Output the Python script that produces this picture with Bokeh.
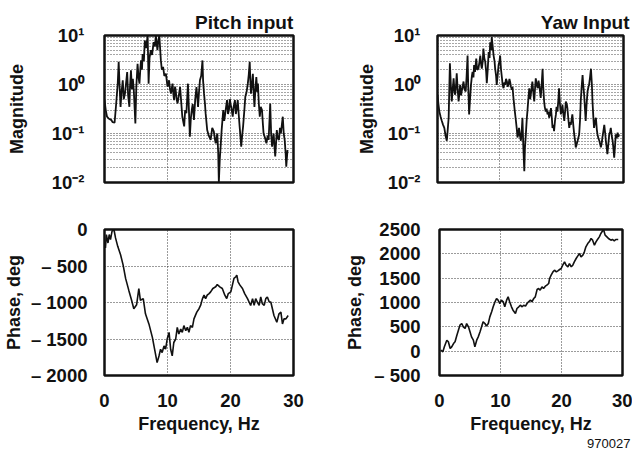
from bokeh.plotting import figure
from bokeh.layouts import column, row
from bokeh.models import Range1d, FixedTicker, CustomJSTickFormatter, Title
from bokeh.embed import file_html
from bokeh.resources import INLINE

# ---- frequency response data (frequency in Hz) ----
pitch_mag_freq = [0.0, 0.2, 0.4, 0.7, 1.05, 1.3, 1.6, 1.85, 2.1, 2.25,
                  2.4, 2.55, 2.7, 2.9, 3.05, 3.25, 3.4, 3.6, 3.75, 3.95,
                  4.05, 4.2, 4.35, 4.5, 4.65, 4.9, 5.05, 5.25, 5.4, 5.55,
                  5.7, 5.8, 5.95, 6.05, 6.25, 6.4, 6.6, 6.85, 7.0, 7.15,
                  7.35, 7.55, 7.8, 8.0, 8.15, 8.4, 8.55, 8.7, 8.95, 9.1,
                  9.3, 9.5, 9.75, 10.0, 10.25, 10.4, 10.55, 10.8, 10.95, 11.05,
                  11.2, 11.3, 11.45, 11.6, 11.8, 12.0, 12.2, 12.35, 12.65, 12.8,
                  13.0, 13.15, 13.25, 13.4, 13.55, 13.7, 13.85, 14.0, 14.2, 14.4,
                  14.6, 14.75, 14.85, 15.0, 15.15, 15.35, 15.55, 15.65, 15.8, 15.95,
                  16.05, 16.3, 16.55, 16.85, 17.1, 17.35, 17.5, 17.65, 17.9, 18.05,
                  18.15, 18.3, 18.4, 18.6, 18.85, 19.0, 19.1, 19.3, 19.45, 19.6,
                  19.75, 19.9, 20.0, 20.2, 20.35, 20.5, 20.7, 20.85, 20.95, 21.15,
                  21.3, 21.45, 21.7, 21.85, 22.0, 22.2, 22.35, 22.55, 22.75, 22.9,
                  23.05, 23.15, 23.25, 23.4, 23.55, 23.7, 23.8, 23.95, 24.1, 24.25,
                  24.35, 24.5, 24.65, 24.8, 25.0, 25.15, 25.25, 25.5, 25.7, 25.9,
                  26.05, 26.2, 26.3, 26.45, 26.6, 26.75, 26.85, 27.0, 27.1, 27.25,
                  27.35, 27.5, 27.7, 27.85, 28.0, 28.15, 28.3, 28.45, 28.6, 28.75,
                  28.85, 29.05]
pitch_mag = [0.48, 0.3, 0.22, 0.2, 0.19, 0.17, 0.166, 0.4, 1.04, 2.9,
             0.9, 0.35, 0.7, 1.22, 0.5, 0.65, 1.0, 1.8, 0.6, 0.35,
             0.9, 1.95, 0.8, 1.3, 0.76, 0.16, 0.9, 2.65, 1.4, 1.04,
             2.2, 3.1, 2.0, 4.2, 3.0, 7.9, 5.5, 10.0, 1.04, 3.5,
             5.0, 4.0, 7.3, 6.0, 10.0, 5.0, 8.0, 10.0, 3.1, 2.0,
             2.3, 1.5, 1.66, 0.9, 1.22, 0.8, 0.65, 1.04, 0.6, 0.48,
             0.9, 0.76, 0.5, 0.41, 0.6, 0.89, 0.4, 0.22, 0.14, 0.3,
             0.26, 0.6, 1.04, 0.3, 0.086, 0.2, 0.30, 0.4, 0.19, 0.5,
             0.89, 0.5, 0.35, 0.7, 1.22, 1.5, 3.1, 1.2, 0.65, 0.4,
             0.26, 0.118, 0.09, 0.074, 0.13, 0.11, 0.08, 0.063, 0.10, 0.04,
             0.01, 0.03, 0.046, 0.12, 0.30, 0.18, 0.22, 0.35, 0.48, 0.25,
             0.30, 0.5, 0.41, 0.3, 0.22, 0.35, 0.48, 0.25, 0.30, 0.48,
             0.25, 0.14, 0.054, 0.09, 0.14, 0.3, 0.56, 0.7, 1.04, 1.6,
             2.9, 1.2, 0.65, 1.0, 1.66, 0.6, 0.35, 0.8, 1.42, 0.7,
             1.04, 0.4, 0.22, 0.35, 0.30, 0.15, 0.10, 0.08, 0.063, 0.09,
             0.074, 0.2, 0.41, 0.1, 0.054, 0.08, 0.10, 0.05, 0.034, 0.07,
             0.118, 0.08, 0.074, 0.13, 0.10, 0.15, 0.22, 0.1, 0.074, 0.04,
             0.021, 0.046]

yaw_mag_freq = [0.0, 0.15, 0.3, 0.5, 0.7, 0.9, 1.1, 1.3, 1.5, 1.65,
                1.8, 1.9, 2.0, 2.15, 2.3, 2.45, 2.6, 2.75, 2.85, 3.0,
                3.1, 3.25, 3.4, 3.55, 3.65, 3.8, 3.9, 4.05, 4.2, 4.35,
                4.55, 4.7, 4.85, 4.95, 5.1, 5.25, 5.4, 5.55, 5.65, 5.8,
                5.9, 6.05, 6.25, 6.4, 6.6, 6.75, 6.9, 7.05, 7.15, 7.3,
                7.4, 7.55, 7.7, 7.85, 7.95, 8.1, 8.25, 8.4, 8.5, 8.65,
                8.75, 8.9, 9.05, 9.2, 9.3, 9.45, 9.55, 9.7, 9.85, 10.0,
                10.1, 10.25, 10.4, 10.5, 10.65, 10.8, 10.9, 11.05, 11.2, 11.3,
                11.45, 11.6, 11.7, 11.85, 12.0, 12.1, 12.25, 12.45, 12.65, 12.8,
                12.9, 13.05, 13.15, 13.3, 13.45, 13.6, 13.7, 13.85, 14.0, 14.1,
                14.25, 14.4, 14.5, 14.65, 14.8, 14.95, 15.05, 15.2, 15.3, 15.45,
                15.6, 15.75, 15.85, 16.0, 16.15, 16.3, 16.4, 16.55, 16.65, 16.8,
                16.95, 17.05, 17.2, 17.3, 17.45, 17.6, 17.75, 17.9, 18.0, 18.15,
                18.3, 18.45, 18.55, 18.7, 18.8, 18.95, 19.1, 19.2, 19.35, 19.5,
                19.6, 19.75, 19.9, 20.05, 20.15, 20.3, 20.45, 20.6, 20.7, 20.85,
                20.95, 21.1, 21.25, 21.4, 21.5, 21.65, 21.75, 21.9, 22.05, 22.2,
                22.3, 22.45, 22.6, 22.75, 22.85, 23.0, 23.1, 23.25, 23.4, 23.5,
                23.65, 23.8, 23.9, 24.05, 24.2, 24.35, 24.45, 24.6, 24.75, 24.9,
                25.0, 25.15, 25.25, 25.4, 25.55, 25.7, 25.8, 25.95, 26.1, 26.25,
                26.35, 26.5, 26.6, 26.75, 26.9, 27.05, 27.15, 27.3, 27.4, 27.55,
                27.7, 27.85, 27.95, 28.1, 28.25, 28.4, 28.5, 28.65, 28.75, 28.9,
                29.05, 29.15, 29.3]
yaw_mag = [0.62, 0.4, 0.28, 0.22, 0.18, 0.15, 0.13, 0.09, 0.071, 0.12,
           0.21, 0.8, 2.7, 1.0, 0.45, 0.8, 1.34, 0.7, 0.62, 1.0,
           1.7, 0.8, 0.45, 0.7, 0.98, 0.6, 0.72, 0.9, 1.15, 0.8,
           0.72, 1.5, 3.9, 1.0, 0.245, 0.5, 0.98, 1.5, 1.8, 1.4,
           2.5, 1.8, 3.4, 2.0, 2.1, 2.8, 3.9, 2.5, 2.1, 3.0,
           5.4, 3.5, 2.9, 1.8, 1.06, 2.0, 4.6, 3.5, 7.3, 5.0,
           9.3, 6.0, 3.9, 3.0, 2.1, 1.5, 0.98, 1.5, 2.5, 3.0,
           3.9, 2.0, 1.34, 1.0, 0.84, 1.1, 0.98, 1.3, 1.15, 0.9,
           0.98, 1.3, 1.15, 0.9, 0.78, 0.9, 0.53, 0.3, 0.18, 0.12,
           0.083, 0.1, 0.13, 0.09, 0.071, 0.12, 0.21, 0.05, 0.017, 0.05,
           0.096, 0.2, 0.28, 0.5, 0.84, 0.5, 0.62, 0.9, 1.15, 0.7,
           0.45, 0.9, 1.34, 1.0, 0.84, 1.2, 0.98, 0.7, 0.53, 1.0,
           2.1, 0.9, 0.45, 0.35, 0.28, 0.32, 0.245, 0.28, 0.21, 0.25,
           0.33, 0.2, 0.13, 0.15, 0.112, 0.18, 0.245, 0.35, 0.28, 0.5,
           0.84, 0.4, 0.245, 0.3, 0.39, 0.25, 0.18, 0.3, 0.45, 0.4,
           0.33, 0.2, 0.13, 0.17, 0.15, 0.2, 0.245, 0.15, 0.096, 0.07,
           0.052, 0.06, 0.071, 0.085, 0.096, 0.2, 0.45, 0.9, 1.55, 1.0,
           0.62, 0.3, 0.18, 0.4, 0.72, 0.9, 0.98, 1.4, 2.1, 1.0,
           0.45, 0.2, 0.13, 0.17, 0.21, 0.12, 0.096, 0.08, 0.071, 0.06,
           0.052, 0.065, 0.083, 0.11, 0.15, 0.1, 0.071, 0.05, 0.038, 0.06,
           0.096, 0.11, 0.13, 0.09, 0.071, 0.045, 0.032, 0.06, 0.096, 0.08,
           0.104, 0.085, 0.096]

pitch_phase_freq = [0.15, 0.3, 0.55, 0.75, 0.95, 1.2, 1.5, 1.75, 2.1, 2.55,
                    2.95, 3.35, 3.85, 4.3, 4.65, 5.1, 5.45, 5.7, 6.15, 6.5,
                    7.05, 7.6, 7.95, 8.35, 8.65, 8.9, 9.15, 9.45, 9.7, 9.95,
                    10.25, 10.5, 10.75, 11.0, 11.3, 11.55, 11.8, 12.1, 12.35, 12.6,
                    12.9, 13.15, 13.4, 13.65, 13.95, 14.2, 14.65, 15.0, 15.25, 15.55,
                    15.8, 16.05, 16.3, 16.6, 16.85, 17.2, 17.65, 17.9, 18.3, 18.7,
                    19.1, 19.4, 19.65, 20.05, 20.3, 20.55, 20.85, 21.0, 21.2, 21.5,
                    21.9, 22.25, 22.7, 22.95, 23.2, 23.5, 23.75, 24.0, 24.25, 24.55,
                    24.8, 25.05, 25.35, 25.6, 25.85, 26.15, 26.4, 26.65, 26.9, 27.35,
                    27.7, 28.0, 28.25, 28.5, 28.8, 29.15]
pitch_phase = [-254, -70, -185, -69, -139, -23, 0, -115, -231, -346,
               -485, -670, -831, -970, -1085, -1030, -808, -970, -947, -1155,
               -1293, -1478, -1640, -1824, -1732, -1640, -1686, -1594, -1640, -1500,
               -1409, -1640, -1732, -1548, -1500, -1340, -1432, -1363, -1409, -1316,
               -1386, -1340, -1409, -1316, -1340, -1224, -1132, -1085, -1040, -947,
               -900, -947, -900, -878, -855, -808, -785, -753, -785, -808,
               -900, -947, -878, -855, -762, -670, -647, -624, -716, -762,
               -808, -878, -947, -993, -1040, -947, -1040, -947, -993, -1040,
               -924, -1016, -1040, -947, -924, -993, -993, -1085, -1178, -1270,
               -1155, -1132, -1293, -1224, -1224, -1178]

yaw_phase_freq = [0.2, 0.55, 0.8, 1.2, 1.45, 1.75, 2.0, 2.3, 2.55, 2.85,
                  3.1, 3.35, 3.65, 3.9, 4.2, 4.45, 4.75, 5.0, 5.25, 5.55,
                  5.8, 6.1, 6.35, 6.65, 6.9, 7.15, 7.45, 7.7, 8.0, 8.25,
                  8.55, 8.8, 9.1, 9.35, 9.6, 9.9, 10.15, 10.45, 10.7, 11.0,
                  11.25, 11.5, 11.8, 12.05, 12.45, 12.7, 13.0, 13.25, 13.55, 13.8,
                  14.1, 14.35, 14.6, 14.9, 15.15, 15.45, 15.7, 16.0, 16.25, 16.5,
                  16.8, 17.05, 17.35, 17.6, 17.9, 18.05, 18.3, 18.6, 18.85, 19.15,
                  19.4, 19.7, 19.95, 20.2, 20.5, 20.75, 21.05, 21.3, 21.6, 21.85,
                  22.1, 22.4, 22.65, 22.95, 23.2, 23.5, 23.75, 24.0, 24.3, 24.55,
                  24.85, 25.1, 25.4, 25.65, 25.9, 26.2, 26.45, 26.75, 26.9, 27.15,
                  27.45, 27.7, 28.1, 28.35, 28.65, 28.9, 29.3]
yaw_phase = [20, -14, 89, 226, 192, 55, 89, 157, 192, 328,
             431, 534, 568, 500, 466, 568, 500, 397, 294, 226,
             89, 226, 294, 397, 500, 603, 568, 514, 568, 705,
             808, 911, 1014, 1082, 1048, 979, 1048, 1014, 911, 1048,
             1116, 1014, 911, 842, 774, 877, 911, 945, 911, 945,
             925, 979, 1014, 1048, 1014, 1082, 1116, 1267, 1288, 1253,
             1322, 1288, 1336, 1356, 1390, 1493, 1562, 1630, 1664, 1630,
             1651, 1678, 1699, 1767, 1836, 1767, 1733, 1801, 1733, 1767,
             1836, 1904, 1952, 2007, 1938, 1973, 2041, 2144, 2212, 2247,
             2315, 2281, 2178, 2247, 2295, 2349, 2418, 2473, 2500, 2384,
             2349, 2315, 2281, 2295, 2267, 2295, 2295]

freq_ticks = [0, 10, 20, 30]
mag_ticks = [0.01, 0.1, 1, 10]
mag_minor = [m * d for d in (0.01, 0.1, 1) for m in range(2, 10)]
pitch_phase_ticks = [-2000, -1500, -1000, -500, 0]
yaw_phase_ticks = [-500, 0, 500, 1000, 1500, 2000, 2500]

FONT = "Liberation Sans"
INK = "#111111"
TICK_SIZE = "18.5px"
LABEL_SIZE = "18px"

log_fmt = CustomJSTickFormatter(code="""
    const e = Math.round(Math.log10(tick));
    const sup = {"-2": "\u207b\u00b2", "-1": "\u207b\u00b9", "0": "\u2070", "1": "\u00b9"};
    return "10" + sup[String(e)];
""")
phase_fmt = CustomJSTickFormatter(code="""
    return tick < 0 ? "\u2013 " + Math.abs(tick) : String(tick);
""")


def base_fig(width, height, left, right, top, bottom, y_range, log=False):
    p = figure(width=width, height=height, x_range=Range1d(0, 30), y_range=y_range,
               y_axis_type="log" if log else "linear",
               output_backend="svg", toolbar_location=None,
               min_border_left=left, min_border_right=right,
               min_border_top=top, min_border_bottom=bottom)
    p.outline_line_color = INK
    p.outline_line_width = 2.5
    p.outline_line_alpha = 1.0
    p.background_fill_color = "white"
    p.border_fill_color = "white"
    for ax in p.axis:
        ax.axis_line_color = None
        ax.major_tick_line_color = None
        ax.minor_tick_line_color = None
        ax.major_label_text_font = FONT
        ax.major_label_text_font_style = "bold"
        ax.major_label_text_font_size = TICK_SIZE
        ax.major_label_text_color = INK
        ax.axis_label_text_font = FONT
        ax.axis_label_text_font_style = "bold"
        ax.axis_label_text_font_size = LABEL_SIZE
        ax.axis_label_text_color = INK
    p.xaxis.ticker = FixedTicker(ticks=freq_ticks)
    p.xgrid.ticker = FixedTicker(ticks=[10, 20])
    for g in (p.xgrid, p.ygrid):
        g.grid_line_color = "#222222"
        g.grid_line_dash = "1 2"
        g.grid_line_width = 1
        g.grid_line_alpha = 0.9
    return p


def set_title(p, text, offset):
    p.title.text = text
    p.title.align = "right"
    p.title.offset = offset
    p.title.text_font = FONT
    p.title.text_font_style = "bold"
    p.title.text_font_size = "19px"
    p.title.text_color = INK
    p.title.standoff = 6


def magnitude_fig(width, left, right, top, bottom, freq, mag, title, offset, label_standoff, tick_standoff):
    p = base_fig(width, 200, left, right, top, bottom, Range1d(0.01, 10), log=True)
    p.yaxis.ticker = FixedTicker(ticks=mag_ticks, minor_ticks=mag_minor)
    p.yaxis.formatter = log_fmt
    p.yaxis.axis_label = "Magnitude"
    p.yaxis.axis_label_standoff = label_standoff
    p.yaxis.major_label_standoff = tick_standoff
    p.ygrid.ticker = FixedTicker(ticks=mag_ticks, minor_ticks=mag_minor)
    p.ygrid.minor_grid_line_color = "#222222"
    p.ygrid.minor_grid_line_dash = "1 2"
    p.ygrid.minor_grid_line_alpha = 0.8
    p.xaxis.visible = False
    set_title(p, title, offset)
    p.line(freq, mag, line_color=INK, line_width=1.8)
    return p


def phase_fig(width, left, right, top, bottom, freq, phase, lo, hi, ticks, label_standoff, tick_standoff):
    p = base_fig(width, 251, left, right, top, bottom, Range1d(lo, hi))
    p.yaxis.ticker = FixedTicker(ticks=ticks)
    p.yaxis.formatter = phase_fmt
    p.yaxis.axis_label = "Phase, deg"
    p.yaxis.axis_label_standoff = label_standoff
    p.yaxis.major_label_standoff = tick_standoff
    p.ygrid.ticker = FixedTicker(ticks=ticks[1:-1])
    p.xaxis.axis_label = "Frequency, Hz"
    p.xaxis.major_label_standoff = 12
    p.xaxis.axis_label_standoff = 4
    p.line(freq, phase, line_color=INK, line_width=1.6)
    return p


pitch_mag_fig = magnitude_fig(316, 104, 23, 35, 17, pitch_mag_freq, pitch_mag,
                              "Pitch  input", -5, 22, 14)
yaw_mag_fig = magnitude_fig(316, 121, 9, 33, 18, yaw_mag_freq, yaw_mag,
                            "Yaw Input", -6, 8, 11)
pitch_phase_fig = phase_fig(316, 104, 23, 29, 76, pitch_phase_freq, pitch_phase,
                            -2000, 0, pitch_phase_ticks, 4, 11)
yaw_phase_fig = phase_fig(316, 123, 10, 29, 76, yaw_phase_freq, yaw_phase,
                          -500, 2500, yaw_phase_ticks, 6, 13)

yaw_phase_fig.add_layout(Title(text="970027", align="right", offset=-8, standoff=0,
                               text_font=FONT, text_font_style="normal",
                               text_font_size="13px", text_color=INK), "below")

p = column(row(pitch_mag_fig, yaw_mag_fig), row(pitch_phase_fig, yaw_phase_fig))

open("out.html", "w").write(file_html(p, INLINE))
